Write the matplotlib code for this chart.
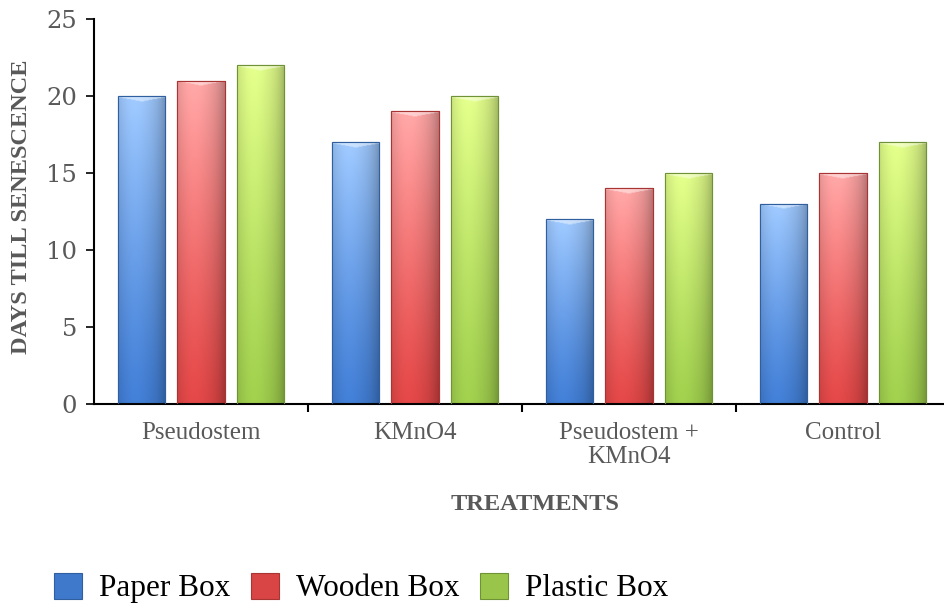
import numpy as np
import matplotlib
matplotlib.use("Agg")
import matplotlib.pyplot as plt
from matplotlib.colors import to_rgb
from matplotlib.patches import Patch

categories = ["Pseudostem", "KMnO4", "Pseudostem +\nKMnO4", "Control"]
series = ["Paper Box", "Wooden Box", "Plastic Box"]
paper_box = [20, 17, 12, 13]
wooden_box = [21, 19, 14, 15]
plastic_box = [22, 20, 15, 17]
values = [paper_box, wooden_box, plastic_box]

# top colour, bottom colour, outline colour for each series
shades = [
    ("#98c0f3", "#3f79cc", "#2f5f9f"),
    ("#f6a0a0", "#d94444", "#a83434"),
    ("#d9f385", "#99c64a", "#6f9236"),
]

gray = "#595959"
serif = "Liberation Serif"

fig = plt.figure(figsize=(9.44, 6.08), dpi=100)
ax = fig.add_axes([94 / 944, (608 - 404) / 608, 856 / 944, 385 / 608])

x = np.arange(len(categories))
offsets = [-0.278, 0.0, 0.278]
width = 0.22


def shaded_bar(ax, bar, top, bottom):
    x0, y0 = bar.get_x(), bar.get_y()
    w, h = bar.get_width(), bar.get_height()
    ny = max(int(h * 20), 2)
    nx = 60
    v = np.linspace(0, 1, ny)[:, None, None]
    t = np.array(to_rgb(top))[None, None, :]
    b = np.array(to_rgb(bottom))[None, None, :]
    img = t * (1 - v) ** 1.2 + b * (1 - (1 - v) ** 1.2)
    u = np.linspace(0, 1, nx)
    # horizontal shading: brighter left of centre, darker at both edges
    f = 1.0 + 0.06 * np.exp(-((u - 0.35) / 0.25) ** 2) - 0.25 * (np.abs(u - 0.4) / 0.6) ** 3
    img = img * f[None, :, None]
    # bevel at the top of the bar
    ytop = np.linspace(h, 0, ny)
    dist = (h - ytop)[:, None]
    edge = np.minimum(u, 1 - u)[None, :] * w
    cap = (dist < 0.6) & (dist < edge * 2.5 + 0.05)
    img[cap] = img[cap] * 0.55 + 0.45
    img = np.clip(img, 0, 1)
    im = ax.imshow(img, extent=[x0, x0 + w, y0, y0 + h], aspect="auto",
                   interpolation="bilinear", zorder=2)
    im.set_clip_path(bar)


for i, vals in enumerate(values):
    top, bottom, edgec = shades[i]
    bars = ax.bar(x + offsets[i], vals, width, color=bottom, edgecolor=edgec,
                  linewidth=0.8, zorder=2, label=series[i])
    for bar in bars:
        shaded_bar(ax, bar, top, bottom)
        # redraw outline above the gradient
        ax.add_patch(plt.Rectangle((bar.get_x(), 0), bar.get_width(), bar.get_height(),
                                   fill=False, edgecolor=edgec, linewidth=0.8, zorder=3))

ax.set_xlim(-0.5, 3.5)
ax.set_ylim(0, 25)
ax.set_yticks([0, 5, 10, 15, 20, 25])
ax.set_xticks(x)
ax.set_xticklabels(categories, fontfamily=serif, fontsize=18, color=gray,
                   linespacing=1.1, va="top")
ax.set_xticks(np.arange(0.5, 3.5, 1), minor=True)
ax.tick_params(axis="x", which="major", length=0, pad=13)
ax.tick_params(axis="x", which="minor", length=6, width=1.5, color="black")
ax.tick_params(axis="y", length=6, width=1.2, color="black", pad=6)
for lab in ax.get_yticklabels():
    lab.set_fontfamily("DejaVu Serif")
    lab.set_fontsize(17.5)
    lab.set_color(gray)

for s in ["top", "right"]:
    ax.spines[s].set_visible(False)
ax.spines["left"].set_linewidth(1.5)
ax.spines["bottom"].set_linewidth(1.5)

fig.text(22 / 944, 1 - 207 / 608, "DAYS TILL SENESCENCE", rotation=90,
         ha="center", va="center", fontfamily=serif, fontweight="bold",
         fontsize=17.5, color=gray)
fig.text(535 / 944, 1 - 505 / 608, "TREATMENTS", ha="center", va="center",
         fontfamily=serif, fontweight="bold", fontsize=17.6, color=gray)

handles = [Patch(facecolor=shades[i][1], edgecolor=shades[i][2], linewidth=0.8)
           for i in range(3)]
fig.legend(handles, series, loc="center left", bbox_to_anchor=(54 / 944, 1 - 588 / 608),
           ncol=3, frameon=False, prop={"family": serif, "size": 22.5},
           handlelength=0.9, handleheight=0.9, handletextpad=0.55,
           columnspacing=0.65, borderpad=0, borderaxespad=0)

fig.savefig("out.png", dpi=100)
